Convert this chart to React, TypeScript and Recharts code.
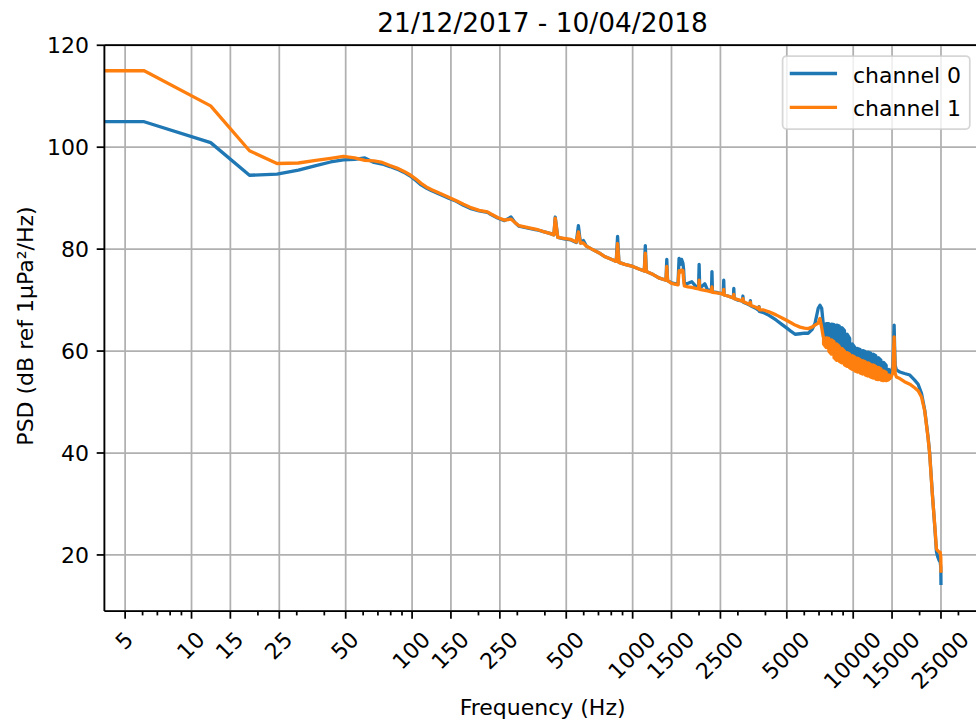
import React from 'react';
import { LineChart, Line, XAxis, YAxis, CartesianGrid } from 'recharts';

// ---------- data ----------
const lowFreq = [
  1, 6.10, 12.21, 18.31, 24.41, 30.52, 36.62, 42.72, 48.83, 54.93,
  61.04, 67.14, 73.24, 79.35, 85.45, 91.55, 97.66, 103.76, 109.86, 115.97,
  122.07, 134.28, 146.48, 158.69, 170.90, 183.11, 201.42, 219.73, 225.83, 244.14,
  262.45, 280.76, 292.97, 305.18, 335.69, 366.21, 390.63, 421.14, 439.45, 445.56,
  457.76, 488.28, 524.90, 555.42, 567.63, 579.83, 598.14, 616.46, 653.08, 701.90,
  750.73, 799.56, 842.29, 854.49, 866.70, 921.63, 1000.98, 1068.12, 1129.15, 1141.36,
  1153.56, 1239.01, 1324.46, 1416.02, 1428.22, 1440.43, 1501.46, 1605.22, 1623.54, 1647.95,
  1666.26, 1690.67, 1702.88, 1715.09, 1782.23, 1855.47, 1934.81, 1989.75, 2001.95, 2014.16,
  2124.02, 2185.06, 2276.61, 2288.82, 2301.03, 2404.79, 2502.44, 2575.68, 2587.89, 2600.10,
  2703.86, 2862.55, 2874.76, 2886.96, 3002.93, 3149.41, 3161.62, 3173.83, 3295.90, 3405.76,
  3417.97, 3430.18, 3613.28, 3729.25, 3741.46, 3753.66, 3894.04, 4150.39, 4467.77, 4760.74,
  5004.88, 5249.02, 5450.44, 5743.41, 6005.86, 6250.00, 6500.24, 6707.76, 6939.70, 7067.87,
  7196.04, 7312.01,
];
const lowCh0 = [
  105.0, 105.0, 100.9, 94.5, 94.7, 95.5, 96.4, 97.1, 97.5, 97.6,
  97.9, 97.0, 96.7, 96.2, 95.7, 95.1, 94.4, 93.5, 92.6, 92.0,
  91.5, 90.7, 90.0, 89.4, 88.6, 88.0, 87.5, 87.2, 86.9, 86.1,
  85.6, 86.3, 85.2, 84.5, 84.1, 83.8, 83.5, 83.1, 82.8, 86.3,
  82.3, 82.0, 81.8, 81.3, 84.6, 81.2, 81.7, 80.6, 80.0, 79.3,
  78.5, 78.0, 77.6, 82.5, 77.4, 77.0, 76.6, 76.1, 75.7, 80.7,
  75.6, 75.0, 74.3, 73.9, 78.0, 73.8, 73.4, 73.1, 78.2, 77.0,
  78.0, 77.2, 76.0, 73.2, 73.3, 73.6, 72.7, 72.4, 77.0, 72.3,
  73.2, 72.0, 71.9, 75.6, 71.6, 71.5, 71.3, 71.2, 73.9, 71.0,
  70.8, 70.4, 72.3, 70.3, 70.0, 69.8, 70.8, 69.6, 69.3, 69.0,
  69.9, 68.9, 68.4, 68.0, 68.7, 67.8, 67.6, 67.0, 66.1, 65.2,
  64.5, 63.8, 63.3, 63.4, 63.5, 63.5, 64.2, 65.4, 68.4, 69.0,
  68.4, 65.4,
];
const lowCh1 = [
  115.0, 115.0, 108.1, 99.3, 96.8, 96.9, 97.4, 97.8, 98.2, 97.9,
  97.4, 97.3, 97.0, 96.4, 95.9, 95.3, 94.6, 93.8, 92.9, 92.2,
  91.7, 90.9, 90.2, 89.5, 88.8, 88.2, 87.6, 87.3, 87.0, 86.2,
  85.7, 85.9, 85.2, 84.6, 84.2, 83.9, 83.5, 83.1, 82.8, 86.1,
  82.3, 82.1, 81.9, 81.4, 83.4, 81.2, 81.2, 80.6, 80.0, 79.3,
  78.5, 78.0, 77.6, 81.1, 77.4, 77.0, 76.6, 76.1, 75.7, 79.2,
  75.6, 75.0, 74.3, 73.9, 76.6, 73.8, 73.3, 73.0, 75.8, 75.5,
  75.9, 75.8, 74.0, 72.8, 72.6, 72.5, 72.3, 72.2, 73.9, 72.1,
  71.9, 71.8, 71.6, 72.6, 71.5, 71.4, 71.3, 71.1, 72.1, 71.0,
  70.8, 70.4, 71.1, 70.3, 70.1, 69.8, 70.3, 69.7, 69.4, 69.1,
  69.6, 69.0, 68.6, 68.3, 68.6, 68.1, 68.1, 67.7, 67.1, 66.5,
  66.0, 65.5, 65.1, 64.7, 64.5, 64.4, 64.7, 65.1, 65.5, 66.4,
  64.6, 62.8,
];

// noisy band between ~7.3 kHz and ~14.7 kHz: upper and lower envelope of each channel
const bandFreq = [
  7340, 7543, 7751, 7965, 8185, 8411, 8643, 8881, 9126, 9378,
  9637, 9903, 10176, 10456, 10745, 11041, 11345, 11658, 11980, 12310,
  12650, 12999, 13357, 13726, 14104, 14493, 14692,
];
const bandCh0Hi = [
  65.4, 65.4, 65.4, 65.3, 65.2, 65.1, 64.9, 64.6, 64.0, 63.3,
  62.5, 61.4, 60.7, 60.5, 60.3, 60.1, 59.9, 59.8, 59.6, 59.4,
  59.1, 58.7, 58.2, 57.8, 57.2, 56.4, 55.9,
];
const bandCh0Lo = [
  62.8, 62.4, 62.1, 61.8, 61.4, 61.1, 60.8, 60.4, 60.0, 59.6,
  59.3, 59.0, 58.7, 58.5, 58.3, 58.1, 57.9, 57.7, 57.5, 57.3,
  57.1, 56.8, 56.4, 56.0, 55.8, 55.6, 55.6,
];
const bandCh1Hi = [
  62.8, 62.6, 62.5, 62.2, 61.8, 61.4, 60.9, 60.5, 60.0, 59.7,
  59.4, 59.1, 58.8, 58.6, 58.3, 58.1, 57.9, 57.7, 57.4, 57.3,
  57.0, 56.8, 56.5, 56.1, 55.8, 55.3, 55.0,
];
const bandCh1Lo = [
  61.4, 60.7, 60.0, 59.4, 58.7, 58.2, 58.0, 57.7, 57.3, 57.0,
  56.7, 56.4, 56.1, 55.9, 55.7, 55.5, 55.3, 55.1, 54.9, 54.7,
  54.5, 54.4, 54.3, 54.2, 54.2, 54.4, 54.6,
];

const highFreq = [
  14900, 15130, 15258.79, 15332.03, 15405.27, 15500, 15700, 16271.97, 17089.84, 18060.30,
  18994.14, 19689.94, 20397.95, 21105.96, 21838.38, 22216.80, 22839.36, 23425.29, 23852.54, 24182.13,
  24475.10, 24804.69, 24957.28, 25000,
];
const highCh0 = [
  56.0, 57.0, 62.0, 65.1, 61.0, 57.2, 56.3, 55.9, 55.6, 55.3,
  54.3, 53.5, 51.7, 48.4, 43.2, 40.0, 32.1, 25.6, 20.6, 19.6,
  19.0, 18.6, 17.5, 14.1,
];
const highCh1 = [
  55.0, 55.8, 60.5, 62.8, 59.5, 55.6, 54.9, 54.6, 54.0, 53.5,
  52.8, 52.2, 51.0, 48.2, 43.0, 39.8, 32.0, 25.8, 21.2, 20.8,
  20.6, 20.5, 19.5, 16.5,
];

const majorTicks = [5, 10, 15, 25, 50, 100, 150, 250, 500, 1000, 1500, 2500, 5000, 10000, 15000, 25000];
const minorTicks = [6, 7, 8, 9, 20, 30, 40, 60, 70, 80, 90, 200, 300, 400, 600, 700, 800, 900,
  2000, 3000, 4000, 6000, 7000, 8000, 9000, 20000, 30000];
const yTicks = [20, 40, 60, 80, 100, 120];
const seriesNames = ['channel 0', 'channel 1'];
const seriesColors = ['#1f77b4', '#ff7f0e'];
const titleText = '21/12/2017 - 10/04/2018';
const xLabelText = 'Frequency (Hz)';
const yLabelText = 'PSD (dB ref 1µPa²/Hz)';

type Row = { f: number; ch0: number; ch1: number };
const lowRows: Row[] = lowFreq.map((f, i) => ({ f, ch0: lowCh0[i], ch1: lowCh1[i] }));
// each band frequency contributes its upper and lower reading (alternating order) so the
// line sweeps the full noise envelope like the dense original spectrum
const bandRows: Row[] = bandFreq.flatMap((f, i) => {
  const hi = { f, ch0: bandCh0Hi[i], ch1: bandCh1Hi[i] };
  const lo = { f, ch0: bandCh0Lo[i], ch1: bandCh1Lo[i] };
  return i % 2 === 0 ? [hi, lo] : [lo, hi];
});
const highRows: Row[] = highFreq.map((f, i) => ({ f, ch0: highCh0[i], ch1: highCh1[i] }));
const data: Row[] = [...lowRows, ...bandRows, ...highRows];

// ---------- style ----------
const FONT = 'DejaVu Sans';
const FS = 22;
const LW = 3.3;
const SPINE = 1.75;
const X_DOMAIN: [number, number] = [4.027, 37887];
const Y_DOMAIN: [number, number] = [9.0, 120.05];

const XTick = (props: any) => {
  const { x, y, payload } = props;
  const label = String(payload.value);
  const L = label.length * 0.636 * FS;
  const H = 1.17 * FS;
  const cy = y + 7.7 + (L + H) * 0.3536;
  return (
    <g transform={`translate(${x - 1},${cy}) rotate(-45)`}>
      <text x={0} y={0} dy="0.36em" textAnchor="middle" fontSize={FS} fontFamily={FONT} fill="#000">
        {label}
      </text>
    </g>
  );
};

const EmptyTick = () => <g />;

export default function App() {
  return (
    <div style={{ position: 'absolute', left: 0, top: 0, width: 976, height: 724, overflow: 'hidden', background: '#fff' }}>
      <LineChart
        width={990}
        height={724}
        data={data}
        margin={{ top: 45, right: 9.2, bottom: 0, left: 0 }}
      >
        <CartesianGrid xAxisId={1} stroke="#b0b0b0" strokeWidth={1.75} />
        <XAxis
          xAxisId={0}
          dataKey="f"
          type="number"
          scale="log"
          domain={X_DOMAIN}
          allowDataOverflow
          ticks={minorTicks}
          interval={0}
          height={0.01}
          axisLine={false}
          tickLine={{ stroke: '#000', strokeWidth: SPINE }}
          tickSize={4.4}
          tick={<EmptyTick />}
        />
        <XAxis
          xAxisId={1}
          dataKey="f"
          type="number"
          scale="log"
          domain={X_DOMAIN}
          allowDataOverflow
          ticks={majorTicks}
          interval={0}
          height={112.99}
          axisLine={{ stroke: '#000', strokeWidth: SPINE }}
          tickLine={{ stroke: '#000', strokeWidth: SPINE }}
          tickSize={7.7}
          tickMargin={0}
          tick={<XTick />}
        />
        <XAxis
          xAxisId="top"
          orientation="top"
          dataKey="f"
          type="number"
          scale="log"
          domain={X_DOMAIN}
          allowDataOverflow
          height={0.01}
          tick={false}
          tickLine={false}
          axisLine={{ stroke: '#000', strokeWidth: SPINE }}
        />
        <YAxis
          type="number"
          domain={Y_DOMAIN}
          allowDataOverflow
          ticks={yTicks}
          interval={0}
          width={104.4}
          axisLine={{ stroke: '#000', strokeWidth: SPINE }}
          tickLine={{ stroke: '#000', strokeWidth: SPINE }}
          tickSize={7.7}
          tickMargin={7.7}
          tick={{ fill: '#000', fontSize: FS, fontFamily: FONT }}
        />
        <Line
          xAxisId={1}
          dataKey="ch0"
          name={seriesNames[0]}
          type="linear"
          stroke={seriesColors[0]}
          strokeWidth={LW}
          strokeLinejoin="round"
          dot={false}
          activeDot={false}
          isAnimationActive={false}
        />
        <Line
          xAxisId={1}
          dataKey="ch1"
          name={seriesNames[1]}
          type="linear"
          stroke={seriesColors[1]}
          strokeWidth={LW}
          strokeLinejoin="round"
          dot={false}
          activeDot={false}
          isAnimationActive={false}
        />
      </LineChart>
      <svg
        width={976}
        height={724}
        style={{ position: 'absolute', left: 0, top: 0, pointerEvents: 'none' }}
      >
        <text x={542.6} y={31.8} textAnchor="middle" fontSize={26.4} fontFamily={FONT} fill="#000">
          {titleText}
        </text>
        <text x={542.6} y={715} textAnchor="middle" fontSize={FS} fontFamily={FONT} fill="#000">
          {xLabelText}
        </text>
        <text
          transform="translate(32.5,326) rotate(-90)"
          textAnchor="middle"
          fontSize={FS}
          fontFamily={FONT}
          fill="#000"
        >
          {yLabelText}
        </text>
        <rect x={782.6} y={56} width={187.2} height={73} rx={4} ry={4}
          fill="#fff" fillOpacity={0.8} stroke="#cccccc" strokeOpacity={0.8} strokeWidth={1.75} />
        {seriesNames.map((name, i) => (
          <g key={name}>
            <line x1={791.4} x2={835.4} y1={73.5 + i * 33.8} y2={73.5 + i * 33.8}
              stroke={seriesColors[i]} strokeWidth={LW} strokeLinecap="square" />
            <text x={853} y={82.5 + i * 33.8} fontSize={FS} fontFamily={FONT} fill="#000">
              {name}
            </text>
          </g>
        ))}
      </svg>
    </div>
  );
}
